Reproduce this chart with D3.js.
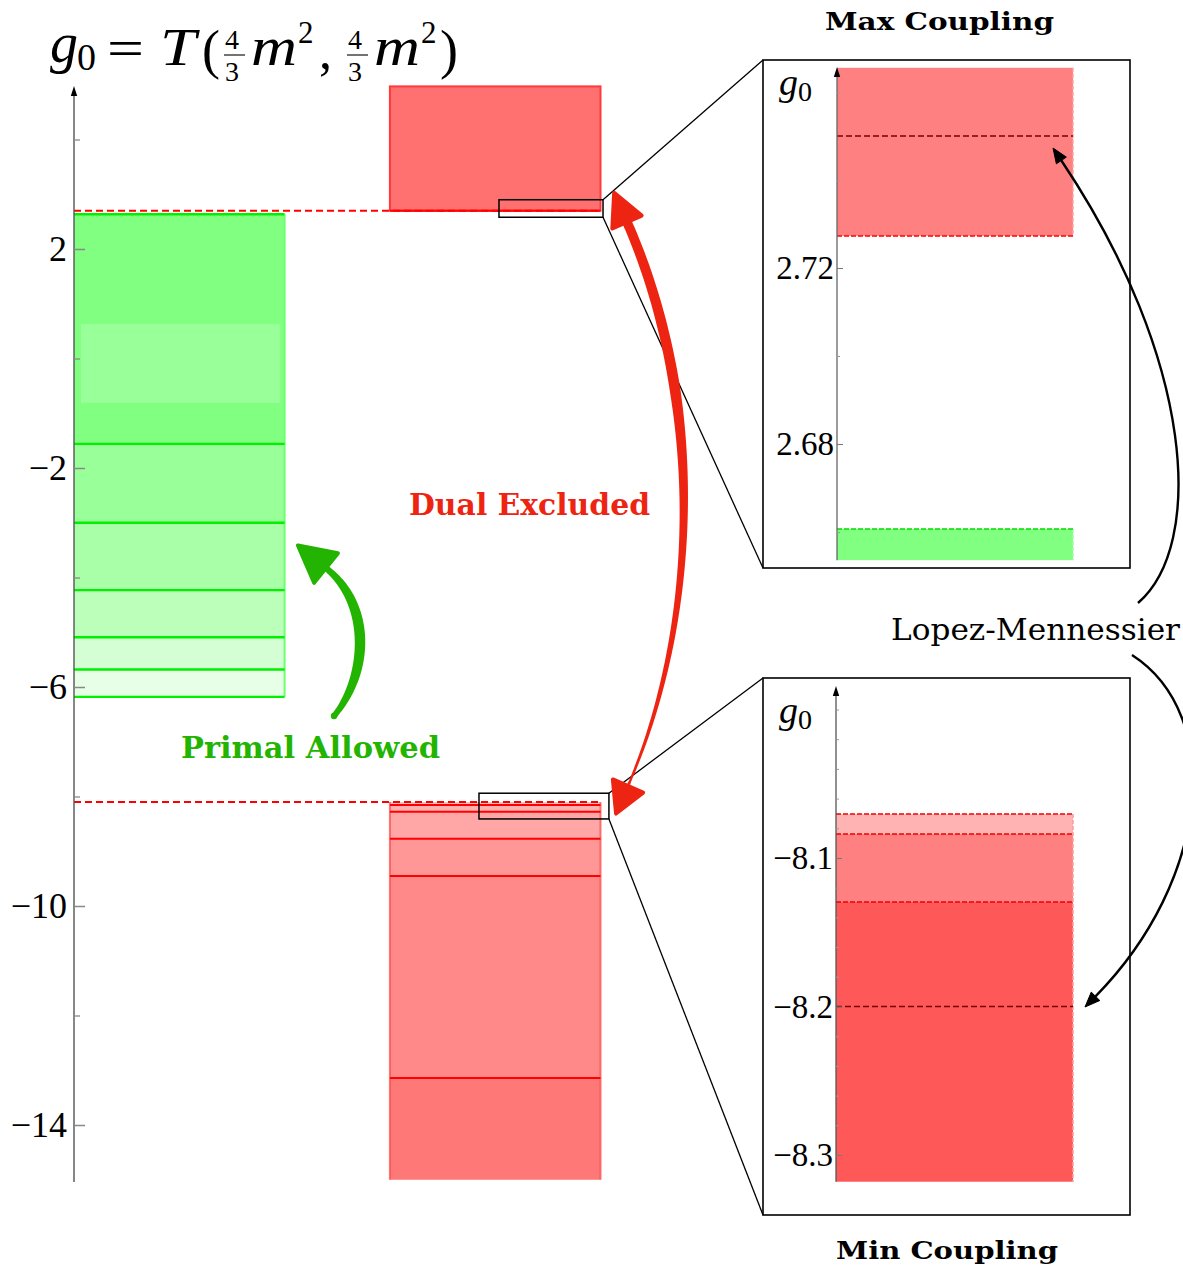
<!DOCTYPE html>
<html>
<head>
<meta charset="utf-8">
<script src="https://cdn.jsdelivr.net/npm/d3@7"></script>
<style>
  body { margin: 0; background: #fff; }
  svg { display: block; }
  .serif { font-family: "Liberation Serif", Tinos, "Times New Roman", "DejaVu Serif", serif; }
</style>
</head>
<body>
<svg id="chart" width="1183" height="1267"></svg>
<script>
// ---------------- data ----------------
// main panel: g0 bounds
const mainMajorTicks = [2, -2, -6, -10, -14];
const mainMinorTicks = [4, 0, -4, -8, -12];

const primalTop = 2.635;                                   // upper edge of primal allowed region
const primalBounds = [-1.56, -3.00, -4.23, -5.09, -5.68, -6.18]; // successive lower bounds
const primalHighlight = [0.63, -0.81];

const dualMaxRange = [2.70, 4.97];                         // dual excluded above g0 max
const dualMinBounds = [-8.10, -8.155, -8.28, -8.77, -9.45, -13.14];
const dualMinBottom = -15.0;

const maxZoomWindow = [2.58, 2.90];
const minZoomWindow = [-7.94, -8.41];

// max coupling close-up
const maxInsetTicks = [2.72, 2.68];
const maxInsetMinor = [2.76, 2.74, 2.70, 2.66];
const maxInsetDual = [2.7273, 2.7655];
const maxInsetPrimal = [2.6536, 2.6607];
const maxInsetLM = 2.75;

// min coupling close-up
const minInsetTicks = [-8.1, -8.2, -8.3];
const minInsetMinor = [-8.0, -8.02, -8.04, -8.06, -8.08, -8.12, -8.14, -8.16, -8.18, -8.22, -8.24, -8.26, -8.28];
const minInsetDualTops = [-8.0704, -8.0838, -8.1296];
const minInsetBottom = -8.318;
const minInsetLM = -8.2;

// ---------------- styles ----------------
const primalFills = ["#80ff80", "#99ff99", "#a8ffa8", "#bbffbb", "#d4ffd4", "#e6ffe6"];
const dualMinFills = ["#ffbdbd", "#ffb0b0", "#ffa6a6", "#ff9797", "#ff8888", "#ff7878"];
const minInsetFills = ["#ffb3b3", "#ff8080", "#ff5858"];
const RED_ARROW = "#ee2412";
const GREEN_ARROW = "#22b400";
const SLAB = "DejaVu Serif, serif";

const svg = d3.select("#chart");
const minus = v => (v < 0 ? "\u2212" : "") + Math.abs(v);

// ---------------- helpers ----------------
function cubicPt(p, t) {
  const u = 1 - t;
  return [
    u*u*u*p[0][0] + 3*u*u*t*p[1][0] + 3*u*t*t*p[2][0] + t*t*t*p[3][0],
    u*u*u*p[0][1] + 3*u*u*t*p[1][1] + 3*u*t*t*p[2][1] + t*t*t*p[3][1]
  ];
}
function cubicDer(p, t) {
  const u = 1 - t;
  return [
    3*u*u*(p[1][0]-p[0][0]) + 6*u*t*(p[2][0]-p[1][0]) + 3*t*t*(p[3][0]-p[2][0]),
    3*u*u*(p[1][1]-p[0][1]) + 6*u*t*(p[2][1]-p[1][1]) + 3*t*t*(p[3][1]-p[2][1])
  ];
}
function norm(v) { const l = Math.hypot(v[0], v[1]); return [v[0]/l, v[1]/l]; }
// filled, tapering stroke along a cubic curve
function taperedPath(p, widthFn, n = 90) {
  const L = [], R = [];
  for (let i = 0; i <= n; i++) {
    const t = i / n, q = cubicPt(p, t), d = norm(cubicDer(p, t));
    const w = widthFn(t) / 2;
    L.push([q[0] - d[1]*w, q[1] + d[0]*w]);
    R.push([q[0] + d[1]*w, q[1] - d[0]*w]);
  }
  return d3.line().curve(d3.curveCatmullRom)(L.concat(R.reverse())) + "Z";
}
// triangle arrow head with base centred on `base`, pointing along `dir`
function headPts(base, dir, len, wid) {
  const d = norm(dir), nrm = [-d[1], d[0]];
  return [
    [base[0] + d[0]*len, base[1] + d[1]*len],
    [base[0] + nrm[0]*wid/2, base[1] + nrm[1]*wid/2],
    [base[0] - nrm[0]*wid/2, base[1] - nrm[1]*wid/2]
  ];
}
function drawHead(g, pts, color, sw) {
  g.append("polygon").attr("points", pts.map(p => p.join(",")).join(" "))
    .attr("fill", color).attr("stroke", color).attr("stroke-width", sw)
    .attr("stroke-linejoin", "round");
}
function axisArrow(g, x, yTop) {
  g.append("polygon")
    .attr("points", `${x},${yTop} ${x-3.2},${yTop+10} ${x+3.2},${yTop+10}`)
    .attr("fill", "#000");
}

// ---------------- main panel ----------------
const yMain = d3.scaleLinear().domain([-15, 5]).range([1179.75, 84.75]);
const xMain = d3.scaleLinear().domain([0, 5]).range([74, 600.5]);
const primalCol = [0, 2], dualCol = [3, 5];

const main = svg.append("g");

// primal allowed: nested lower bounds
primalBounds.forEach((b, i) => {
  const top = i === 0 ? primalTop : primalBounds[i-1];
  main.append("rect")
    .attr("x", xMain(primalCol[0])).attr("width", xMain(primalCol[1]) - xMain(primalCol[0]))
    .attr("y", yMain(top)).attr("height", yMain(b) - yMain(top))
    .attr("fill", primalFills[i]);
});
main.append("rect")
  .attr("x", xMain(0.066)).attr("width", xMain(1.96) - xMain(0.066))
  .attr("y", yMain(primalHighlight[0])).attr("height", yMain(primalHighlight[1]) - yMain(primalHighlight[0]))
  .attr("fill", "#99ff99");
main.append("line")
  .attr("x1", xMain(primalCol[1])).attr("x2", xMain(primalCol[1]))
  .attr("y1", yMain(primalTop)).attr("y2", yMain(primalBounds[primalBounds.length-1]))
  .attr("stroke", "#6dff6d").attr("stroke-width", 2);
[primalTop, ...primalBounds].forEach(b => {
  main.append("line")
    .attr("x1", xMain(primalCol[0])).attr("x2", xMain(primalCol[1]))
    .attr("y1", yMain(b)).attr("y2", yMain(b))
    .attr("stroke", "#00f000").attr("stroke-width", 2.4);
});

// dual excluded above g0 max
main.append("rect")
  .attr("x", xMain(dualCol[0])).attr("width", xMain(dualCol[1]) - xMain(dualCol[0]))
  .attr("y", yMain(dualMaxRange[1])).attr("height", yMain(dualMaxRange[0]) - yMain(dualMaxRange[1]))
  .attr("fill", "#ff7070").attr("stroke", "#ff3a3a").attr("stroke-width", 2);

// dual excluded below g0 min: nested upper bounds
dualMinBounds.forEach((b, i) => {
  const bot = i < dualMinBounds.length - 1 ? dualMinBounds[i+1] : dualMinBottom;
  main.append("rect")
    .attr("x", xMain(dualCol[0])).attr("width", xMain(dualCol[1]) - xMain(dualCol[0]))
    .attr("y", yMain(b)).attr("height", yMain(bot) - yMain(b))
    .attr("fill", dualMinFills[i]);
});
[dualCol[0], dualCol[1]].forEach(c => {
  main.append("line")
    .attr("x1", xMain(c)).attr("x2", xMain(c))
    .attr("y1", yMain(dualMinBounds[0])).attr("y2", yMain(dualMinBottom))
    .attr("stroke", "#ff4a4a").attr("stroke-width", 2).attr("opacity", 0.75);
});
dualMinBounds.slice(1).forEach(b => {
  main.append("line")
    .attr("x1", xMain(dualCol[0])).attr("x2", xMain(dualCol[1]))
    .attr("y1", yMain(b)).attr("y2", yMain(b))
    .attr("stroke", "#ff0000").attr("stroke-width", 2);
});

// bound guides
[dualMaxRange[0], dualMinBounds[0]].forEach(b => {
  main.append("line")
    .attr("x1", xMain(0)).attr("x2", xMain(dualCol[1]))
    .attr("y1", yMain(b)).attr("y2", yMain(b))
    .attr("stroke", "#ff0000").attr("stroke-width", 2).attr("stroke-dasharray", "7,4");
});
main.append("line")
  .attr("x1", xMain(dualCol[0])).attr("x2", xMain(dualCol[1]))
  .attr("y1", yMain(dualMaxRange[0])).attr("y2", yMain(dualMaxRange[0]))
  .attr("stroke", "#ff0000").attr("stroke-width", 2);

// main axis
main.append("line")
  .attr("x1", xMain(0)).attr("x2", xMain(0))
  .attr("y1", yMain(-15.04)).attr("y2", yMain(4.9))
  .attr("stroke", "#555").attr("stroke-width", 1.4);
axisArrow(main, xMain(0), 86);

const majorAxis = main.append("g").attr("transform", `translate(${xMain(0)},0)`)
  .call(d3.axisLeft(yMain).tickValues(mainMajorTicks).tickSize(-11).tickPadding(7).tickFormat(minus));
majorAxis.attr("font-family", null);
majorAxis.select(".domain").remove();
majorAxis.selectAll(".tick line").attr("stroke", "#888").attr("stroke-width", 1.5);
majorAxis.selectAll(".tick text").attr("class", "serif").attr("font-size", 36).attr("fill", "#000");
const minorAxis = main.append("g").attr("transform", `translate(${xMain(0)},0)`)
  .call(d3.axisLeft(yMain).tickValues(mainMinorTicks).tickSize(-6).tickFormat(""));
minorAxis.select(".domain").remove();
minorAxis.selectAll(".tick line").attr("stroke", "#888").attr("stroke-width", 1.3);

// title g0 = T(4/3 m^2, 4/3 m^2)
const title = svg.append("g").attr("class", "serif").attr("fill", "#000");
const tPiece = (txt, x, y, size, italic, len) => {
  const t = title.append("text")
    .attr("x", x).attr("y", y).attr("font-size", size)
    .attr("font-style", italic ? "italic" : "normal").text(txt);
  if (len) t.attr("textLength", len).attr("lengthAdjust", "spacingAndGlyphs");
  return t;
};
tPiece("g", 50, 62, 56, true);
tPiece("0", 77, 70, 38, false);
tPiece("=", 107, 66, 52, false, 37);
tPiece("T", 160, 65, 52, true, 36);
tPiece("(", 202, 68, 54, false);
tPiece("4", 225, 49, 28, false);
tPiece("3", 225, 81, 28, false);
tPiece("m", 251, 65, 54, true, 46);
tPiece("2", 298, 43, 31, false);
tPiece(",", 319, 68, 52, false);
tPiece("4", 348, 49, 28, false);
tPiece("3", 348, 81, 28, false);
tPiece("m", 374, 65, 54, true, 46);
tPiece("2", 421, 43, 31, false);
tPiece(")", 440, 68, 54, false);
[[224, 245], [347, 368]].forEach(([a, b]) => title.append("line")
  .attr("x1", a).attr("x2", b).attr("y1", 55).attr("y2", 55)
  .attr("stroke", "#000").attr("stroke-width", 1.1));

// ---------------- close-up frames ----------------
const frameMax = { x0: 763, x1: 1130, y0: 60, y1: 568 };
const frameMin = { x0: 763, x1: 1130, y0: 678, y1: 1215 };

const boxMax = { x0: xMain(4.036), x1: xMain(5.024), y0: yMain(maxZoomWindow[1]), y1: yMain(maxZoomWindow[0]) };
const boxMin = { x0: xMain(3.846), x1: xMain(5.08), y0: yMain(minZoomWindow[0]), y1: yMain(minZoomWindow[1]) };

const conn = svg.append("g").attr("stroke", "#000").attr("fill", "none");
[boxMax, boxMin].forEach(b => conn.append("rect")
  .attr("x", b.x0).attr("y", b.y0).attr("width", b.x1 - b.x0).attr("height", b.y1 - b.y0)
  .attr("stroke-width", 1.5));
[[boxMax, frameMax], [boxMin, frameMin]].forEach(([b, f]) => {
  conn.append("line").attr("x1", b.x1).attr("y1", b.y0).attr("x2", f.x0).attr("y2", f.y0).attr("stroke-width", 1.3);
  conn.append("line").attr("x1", b.x1).attr("y1", b.y1).attr("x2", f.x0).attr("y2", f.y1).attr("stroke-width", 1.3);
});
[frameMax, frameMin].forEach(f => svg.append("rect")
  .attr("x", f.x0).attr("y", f.y0).attr("width", f.x1 - f.x0).attr("height", f.y1 - f.y0)
  .attr("fill", "#fff").attr("stroke", "#000").attr("stroke-width", 1.6));

// --- max coupling close-up ---
const yMaxIn = d3.scaleLinear().domain([2.68, 2.72]).range([444, 268]);
const xMaxIn = d3.scaleLinear().domain([0, 1]).range([837, 1073]);
const gMax = svg.append("g");
gMax.append("rect")
  .attr("x", xMaxIn(0)).attr("width", xMaxIn(1) - xMaxIn(0))
  .attr("y", yMaxIn(maxInsetDual[1])).attr("height", yMaxIn(maxInsetDual[0]) - yMaxIn(maxInsetDual[1]))
  .attr("fill", "#ff8080");
gMax.append("rect")
  .attr("x", xMaxIn(0)).attr("width", xMaxIn(1) - xMaxIn(0))
  .attr("y", yMaxIn(maxInsetPrimal[1])).attr("height", yMaxIn(maxInsetPrimal[0]) - yMaxIn(maxInsetPrimal[1]))
  .attr("fill", "#80ff80");
gMax.append("line").attr("x1", xMaxIn(1)).attr("x2", xMaxIn(1))
  .attr("y1", yMaxIn(maxInsetDual[1])).attr("y2", yMaxIn(maxInsetDual[0]))
  .attr("stroke", "#ffa0a0").attr("stroke-width", 1.5).attr("stroke-dasharray", "4,2");
gMax.append("line").attr("x1", xMaxIn(1)).attr("x2", xMaxIn(1))
  .attr("y1", yMaxIn(maxInsetPrimal[1])).attr("y2", yMaxIn(maxInsetPrimal[0]))
  .attr("stroke", "#a0ffa0").attr("stroke-width", 1.5).attr("stroke-dasharray", "4,2");
gMax.append("line").attr("x1", xMaxIn(0)).attr("x2", xMaxIn(1))
  .attr("y1", yMaxIn(maxInsetDual[0])).attr("y2", yMaxIn(maxInsetDual[0]))
  .attr("stroke", "#ff0000").attr("stroke-width", 1.5).attr("stroke-dasharray", "5,2");
gMax.append("line").attr("x1", xMaxIn(0)).attr("x2", xMaxIn(1))
  .attr("y1", yMaxIn(maxInsetPrimal[1])).attr("y2", yMaxIn(maxInsetPrimal[1]))
  .attr("stroke", "#00e000").attr("stroke-width", 1.5).attr("stroke-dasharray", "5,2");
gMax.append("line").attr("x1", xMaxIn(0)).attr("x2", xMaxIn(1))
  .attr("y1", yMaxIn(maxInsetLM)).attr("y2", yMaxIn(maxInsetLM))
  .attr("stroke", "#7a0000").attr("stroke-width", 1.5).attr("stroke-dasharray", "6,3");
gMax.append("line").attr("x1", xMaxIn(0)).attr("x2", xMaxIn(0))
  .attr("y1", yMaxIn(maxInsetPrimal[0])).attr("y2", 72)
  .attr("stroke", "#666").attr("stroke-width", 1.3);
axisArrow(gMax, xMaxIn(0), 67);
const maxAx = gMax.append("g").attr("transform", `translate(${xMaxIn(0)},0)`)
  .call(d3.axisLeft(yMaxIn).tickValues(maxInsetTicks).tickSize(-6).tickPadding(3).tickFormat(d3.format(".2f")));
maxAx.attr("font-family", null);
maxAx.select(".domain").remove();
maxAx.selectAll(".tick line").attr("stroke", "#777");
maxAx.selectAll(".tick text").attr("class", "serif").attr("font-size", 33).attr("fill", "#000");
const maxMin = gMax.append("g").attr("transform", `translate(${xMaxIn(0)},0)`)
  .call(d3.axisLeft(yMaxIn).tickValues(maxInsetMinor).tickSize(-3).tickFormat(""));
maxMin.select(".domain").remove();
maxMin.selectAll(".tick line").attr("stroke", "#999");
gMax.append("text").attr("class", "serif").attr("x", 779).attr("y", 95)
  .attr("font-size", 38).attr("font-style", "italic").text("g");
gMax.append("text").attr("class", "serif").attr("x", 798).attr("y", 101)
  .attr("font-size", 28).text("0");

// --- min coupling close-up ---
const yMinIn = d3.scaleLinear().domain([-8.3, -8.1]).range([1155, 858]);
const xMinIn = d3.scaleLinear().domain([0, 1]).range([836, 1073]);
const gMin = svg.append("g");
minInsetDualTops.forEach((b, i) => {
  const bot = i < minInsetDualTops.length - 1 ? minInsetDualTops[i+1] : minInsetBottom;
  gMin.append("rect")
    .attr("x", xMinIn(0)).attr("width", xMinIn(1) - xMinIn(0))
    .attr("y", yMinIn(b)).attr("height", yMinIn(bot) - yMinIn(b))
    .attr("fill", minInsetFills[i]);
});
gMin.append("line").attr("x1", xMinIn(1)).attr("x2", xMinIn(1))
  .attr("y1", yMinIn(minInsetDualTops[0])).attr("y2", yMinIn(minInsetBottom))
  .attr("stroke", "#ff9a9a").attr("stroke-width", 1.5).attr("stroke-dasharray", "4,2");
minInsetDualTops.forEach(b => gMin.append("line")
  .attr("x1", xMinIn(0)).attr("x2", xMinIn(1)).attr("y1", yMinIn(b)).attr("y2", yMinIn(b))
  .attr("stroke", "#ee0000").attr("stroke-width", 1.5).attr("stroke-dasharray", "5,2"));
gMin.append("line").attr("x1", xMinIn(0)).attr("x2", xMinIn(1))
  .attr("y1", yMinIn(minInsetLM)).attr("y2", yMinIn(minInsetLM))
  .attr("stroke", "#7a0000").attr("stroke-width", 1.5).attr("stroke-dasharray", "6,3");
gMin.append("line").attr("x1", xMinIn(0)).attr("x2", xMinIn(0))
  .attr("y1", yMinIn(minInsetBottom)).attr("y2", 692)
  .attr("stroke", "#555").attr("stroke-width", 1.3);
axisArrow(gMin, xMinIn(0), 686);
const minAx = gMin.append("g").attr("transform", `translate(${xMinIn(0)},0)`)
  .call(d3.axisLeft(yMinIn).tickValues(minInsetTicks).tickSize(-6).tickPadding(3)
    .tickFormat(d => "\u2212" + Math.abs(d).toFixed(1)));
minAx.attr("font-family", null);
minAx.select(".domain").remove();
minAx.selectAll(".tick line").attr("stroke", "#777");
minAx.selectAll(".tick text").attr("class", "serif").attr("font-size", 33).attr("fill", "#000");
const minMin = gMin.append("g").attr("transform", `translate(${xMinIn(0)},0)`)
  .call(d3.axisLeft(yMinIn).tickValues(minInsetMinor).tickSize(-3).tickFormat(""));
minMin.select(".domain").remove();
minMin.selectAll(".tick line").attr("stroke", "#999");
gMin.append("text").attr("class", "serif").attr("x", 779).attr("y", 723)
  .attr("font-size", 38).attr("font-style", "italic").text("g");
gMin.append("text").attr("class", "serif").attr("x", 798).attr("y", 729)
  .attr("font-size", 28).text("0");

// ---------------- annotations ----------------
const ann = svg.append("g");

// dual excluded: double-headed arrow between the two zoom windows
const redCurve = [[627, 222], [705, 400], [700, 620], [628, 786]];
ann.append("path").attr("d", taperedPath(redCurve, t => t < 0.3 ? 9.5 + 4*t : 10.7 - 8.5*(t - 0.3)/0.7))
  .attr("fill", RED_ARROW);
drawHead(ann, headPts(redCurve[0], [redCurve[0][0]-redCurve[1][0], redCurve[0][1]-redCurve[1][1]], 32, 32), RED_ARROW, 4);
drawHead(ann, headPts(redCurve[3], [redCurve[3][0]-redCurve[2][0], redCurve[3][1]-redCurve[2][1]], 30, 33), RED_ARROW, 4);

// primal allowed arrow
const greenCurve = [[326, 568], [372, 605], [368, 675], [334, 716]];
ann.append("path").attr("d", taperedPath(greenCurve, t => 6 + 4.5*Math.sin(Math.PI*Math.min(1, t*1.05))))
  .attr("fill", GREEN_ARROW);
ann.append("circle").attr("cx", greenCurve[3][0]).attr("cy", greenCurve[3][1]).attr("r", 3.2).attr("fill", GREEN_ARROW);
drawHead(ann, headPts(greenCurve[0], [greenCurve[0][0]-greenCurve[1][0], greenCurve[0][1]-greenCurve[1][1]], 36, 38), GREEN_ARROW, 4);

// Lopez-Mennessier pointers
const lmUp = [[1138, 603], [1205, 545], [1195, 360], [1053, 148]];
const lmDown = [[1132, 655], [1225, 715], [1210, 880], [1085, 1007]];
[lmUp, lmDown].forEach(c => {
  const d = norm([c[3][0]-c[2][0], c[3][1]-c[2][1]]);
  const base = [c[3][0] - d[0]*15, c[3][1] - d[1]*15];
  const trimmed = [c[0], c[1], c[2], base];
  ann.append("path")
    .attr("d", `M${trimmed[0]}C${trimmed[1]} ${trimmed[2]} ${trimmed[3]}`)
    .attr("fill", "none").attr("stroke", "#000").attr("stroke-width", 2.4);
  drawHead(ann, headPts(base, d, 15, 12), "#000", 1);
});

// labels
const label = (txt, x, y, size, color, len, weight) => svg.append("text")
  .attr("x", x).attr("y", y).attr("font-family", SLAB).attr("font-size", size)
  .attr("font-weight", weight).attr("fill", color)
  .attr("textLength", len).attr("lengthAdjust", "spacingAndGlyphs").text(txt);
label("Max Coupling", 825, 30, 25, "#000", 229, "bold");
label("Min Coupling", 836, 1259, 25, "#000", 222, "bold");
label("Dual Excluded", 409, 515, 30, RED_ARROW, 241, "bold");
label("Primal Allowed", 181, 758, 30, GREEN_ARROW, 259, "bold");
label("Lopez-Mennessier", 891, 640, 29, "#000", 289, "normal");
</script>
</body>
</html>
